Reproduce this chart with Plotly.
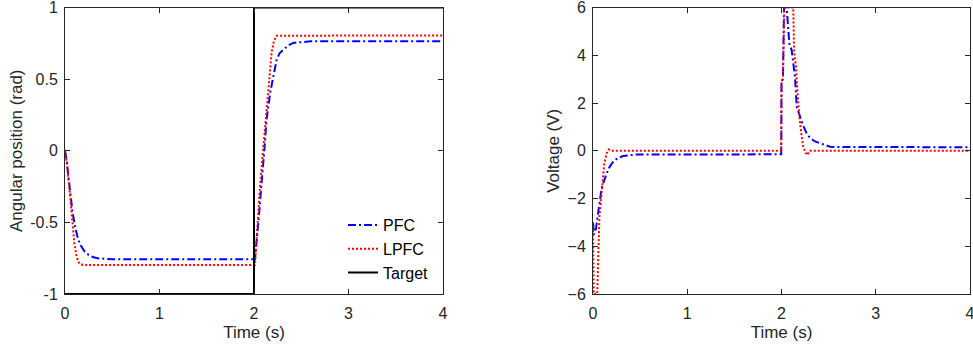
import plotly.graph_objects as go

# ---------------- data ----------------
# Left panel: angular position (rad) vs time (s)
pos_pfc_t = [0, 0.02, 0.05, 0.08, 0.11, 0.14, 0.17, 0.21, 0.25, 0.30, 0.35, 0.42, 0.5,
             2.0, 2.01, 2.05, 2.08, 2.11, 2.133, 2.17, 2.205, 2.24, 2.27, 2.31, 2.36,
             2.415, 2.5, 2.6, 4.0]
pos_pfc_v = [0, -0.08, -0.26, -0.43, -0.54, -0.62, -0.665, -0.705, -0.727, -0.743, -0.751,
             -0.756, -0.757,
             -0.757, -0.757, -0.47, -0.25, 0.01, 0.217, 0.40, 0.52, 0.636, 0.68, 0.706,
             0.735, 0.753, 0.76, 0.764, 0.764]

pos_lpfc_t = [0, 0.02, 0.05, 0.08, 0.10, 0.12, 0.14, 0.16, 0.19,
              2.0, 2.01, 2.063, 2.116, 2.151, 2.186, 2.21, 2.225, 2.24, 4.0]
pos_lpfc_v = [0, -0.09, -0.29, -0.51, -0.65, -0.73, -0.775, -0.79, -0.797,
              -0.797, -0.797, -0.25, 0.147, 0.40, 0.683, 0.765, 0.79, 0.803, 0.805]

target_t = [0, 2.0, 2.0, 4.0]
target_v = [-1, -1, 1, 1]

# Right panel: voltage (V) vs time (s)
volt_pfc_t = [0, 0.012, 0.03, 0.045, 0.056, 0.074, 0.09, 0.109, 0.125, 0.145, 0.17, 0.2,
              0.23, 0.27, 0.32, 0.38, 0.45,
              1.997, 2.0, 2.015, 2.027, 2.055, 2.072, 2.083, 2.108, 2.125, 2.143, 2.161,
              2.2, 2.23, 2.27, 2.30, 2.35, 2.41, 2.46, 2.515, 2.6, 4.0]
volt_pfc_v = [-3.0, -3.5, -3.3, -2.9, -2.48, -1.92, -1.6, -1.36, -1.15, -0.95, -0.72, -0.53,
              -0.40, -0.30, -0.22, -0.18, -0.16,
              -0.15, 2.9, 3.0, 6.0, 6.0, 5.05, 4.49, 4.21, 3.66, 3.1, 1.85,
              1.35, 1.05, 0.7, 0.55, 0.4, 0.31, 0.23, 0.17, 0.155, 0.15]

volt_lpfc_t = [0, 0.008, 0.045, 0.052, 0.058, 0.068, 0.085, 0.103, 0.12, 0.145, 0.165, 0.2,
               1.997, 2.0, 2.015, 2.03, 2.125, 2.133, 2.154, 2.168, 2.189, 2.214, 2.231,
               2.26, 2.275, 2.29, 2.302, 4.0]
volt_lpfc_v = [-3.0, -6.0, -6.0, -5.1, -3.7, -2.76, -2.06, -1.23, -0.53, -0.11, 0.05, 0.0,
               0.0, 2.9, 3.0, 6.0, 6.0, 4.21, 3.52, 2.54, 1.42, 0.59, 0.17,
               -0.11, -0.18, -0.05, 0.0, 0.0]

x_ticks = [0, 1, 2, 3, 4]
pos_ticks = [-1, -0.5, 0, 0.5, 1]
pos_tick_text = ["-1", "-0.5", "0", "0.5", "1"]
volt_ticks = [-6, -4, -2, 0, 2, 4, 6]

# ---------------- styling ----------------
W, H = 973, 351
AX = "#262626"
FONT = "Liberation Sans, Arial, sans-serif"
PFC_STYLE = dict(color="#0000FF", width=2, dash="8px,3px,2px,3px")
LPFC_STYLE = dict(color="#FF0000", width=2, dash="2px,2px")

fig = go.Figure()
fig.add_trace(go.Scatter(x=pos_pfc_t, y=pos_pfc_v, mode="lines", name="PFC",
                         line=PFC_STYLE, xaxis="x", yaxis="y"))
fig.add_trace(go.Scatter(x=pos_lpfc_t, y=pos_lpfc_v, mode="lines", name="LPFC",
                         line=LPFC_STYLE, xaxis="x", yaxis="y"))
fig.add_trace(go.Scatter(x=target_t, y=target_v, mode="lines", name="Target",
                         line=dict(color="#000000", width=2), xaxis="x", yaxis="y"))
fig.add_trace(go.Scatter(x=volt_pfc_t, y=volt_pfc_v, mode="lines", name="PFC",
                         line=PFC_STYLE, xaxis="x2", yaxis="y2", showlegend=False))
fig.add_trace(go.Scatter(x=volt_lpfc_t, y=volt_lpfc_v, mode="lines", name="LPFC",
                         line=LPFC_STYLE, xaxis="x2", yaxis="y2", showlegend=False))

ydom = [1 - 294 / H, 1 - 7.5 / H]
common = dict(showgrid=False, zeroline=False, showline=True, linecolor=AX, linewidth=1,
              mirror="ticks", ticks="inside", ticklen=5, tickcolor=AX, tickwidth=1,
              ticklabeloverflow="allow", automargin=False,
              tickfont=dict(family=FONT, size=16, color=AX))
title_font = dict(family=FONT, size=17, color=AX)

fig.update_layout(
    width=W, height=H,
    margin=dict(l=0, r=0, t=0, b=0, autoexpand=False),
    paper_bgcolor="white", plot_bgcolor="white",
    font=dict(family=FONT, color=AX),
    xaxis=dict(domain=[65 / W, 443 / W], range=[0, 4], tickvals=x_ticks, anchor="y",
               ticklabelstandoff=5,
               title=dict(text="Time (s)", font=title_font, standoff=4), **common),
    yaxis=dict(domain=ydom, range=[-1, 1], tickvals=pos_ticks, ticktext=pos_tick_text,
               anchor="x", ticklabelstandoff=3,
               title=dict(text="Angular position (rad)", font=title_font, standoff=3),
               **common),
    xaxis2=dict(domain=[593 / W, 970 / W], range=[0, 4], tickvals=x_ticks, anchor="y2",
                ticklabelstandoff=5,
                title=dict(text="Time (s)", font=title_font, standoff=4), **common),
    yaxis2=dict(domain=ydom, range=[-6, 6], tickvals=volt_ticks, anchor="x2",
                ticklabelstandoff=3,
                title=dict(text="Voltage (V)", font=title_font, standoff=3), **common),
    legend=dict(x=434 / W, xanchor="right", y=1 - 208 / H, yanchor="top",
                bgcolor="rgba(255,255,255,0)", borderwidth=0,
                font=dict(family=FONT, size=16, color="#000000"),
                tracegroupgap=0, itemwidth=30),
    showlegend=True,
)

fig.write_html("out.html")
